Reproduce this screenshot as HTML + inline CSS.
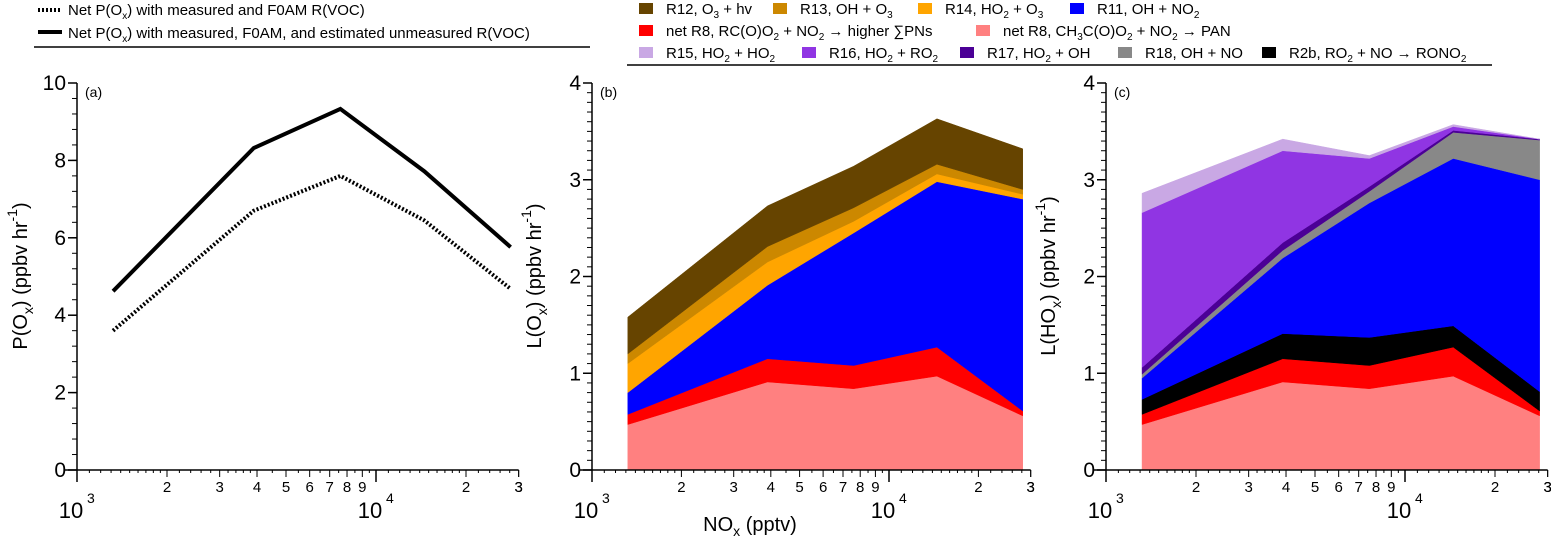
<!DOCTYPE html>
<html><head><meta charset="utf-8"><style>
html,body{margin:0;padding:0;background:#fff;}
svg{display:block;font-family:"Liberation Sans",Arial,sans-serif;}
</style></head><body>
<svg id="fig" width="1551" height="536" viewBox="0 0 1551 536"></svg>
<script>
// ---- data ----
const nox = [1320, 3900, 7600, 14500, 28200];
const pMeasured = [3.6, 6.7, 7.6, 6.45, 4.68];
const pTotal = [4.62, 8.32, 9.33, 7.72, 5.76];
// panel b series (individual contributions, stacked bottom->top)
const bPAN = [0.47, 0.91, 0.84, 0.97, 0.56];
const bR8h = [0.105, 0.24, 0.24, 0.30, 0.05];
const bR11 = [0.225, 0.76, 1.37, 1.71, 2.19];
const bR14 = [0.30, 0.24, 0.12, 0.08, 0.05];
const bR13 = [0.10, 0.16, 0.14, 0.10, 0.05];
const bR12 = [0.38, 0.42, 0.43, 0.47, 0.42];
// panel c series
const cPAN = [0.47, 0.91, 0.84, 0.97, 0.56];
const cR8h = [0.105, 0.24, 0.24, 0.30, 0.05];
const cR2b = [0.155, 0.26, 0.29, 0.22, 0.20];
const cR11 = [0.22, 0.78, 1.39, 1.73, 2.19];
const cR18 = [0.04, 0.08, 0.12, 0.27, 0.41];
const cR17 = [0.07, 0.08, 0.05, 0.02, 0.01];
const cR16 = [1.60, 0.95, 0.29, 0.04, 0.0];
const cR15 = [0.20, 0.12, 0.03, 0.02, 0.0];
const aYTicks = [0, 2, 4, 6, 8, 10];
const lYTicks = [0, 1, 2, 3, 4];
const xMinorLabels = ['2','3','4','5','6','7','8','9'];

const NS = 'http://www.w3.org/2000/svg';
const svg = document.getElementById('fig');
function el(tag, attrs, parent){
  const e = document.createElementNS(NS, tag);
  for (const k in attrs) e.setAttribute(k, attrs[k]);
  (parent||svg).appendChild(e);
  return e;
}
function makeAxes(x0, dec, top, bot, ymax){
  return {
    x: v => x0 + dec*(Math.log10(v) - 3),
    y: v => bot - (bot-top)*v/ymax, x0, dec, top, bot, ymax
  };
}
const A = makeAxes(77, 299, 83, 470, 10);
const B = makeAxes(592, 297, 83, 470, 4);
const C = makeAxes(1106, 299, 83, 470, 4);

function drawAxes(ax, name, yticks, minorStep){
  const g = el('g', {});
  
  
  const xEnd = ax.x(30000);
  el('line', {x1: ax.x0-12, y1: ax.bot, x2: xEnd, y2: ax.bot, stroke:'#000','stroke-width':1.5}, g);
  el('line', {x1: ax.x0, y1: ax.top, x2: ax.x0, y2: ax.bot, stroke:'#000','stroke-width':1.5}, g);
  // y ticks
  for (let v=0; v<=ax.ymax+1e-9; v+=minorStep){
    const y = ax.y(v);
    el('line',{x1:ax.x0-5,y1:y,x2:ax.x0,y2:y,stroke:'#000','stroke-width':1}, g);
  }
  yticks.forEach(v=>{
    const y = ax.y(v);
    el('line',{x1:ax.x0-9,y1:y,x2:ax.x0,y2:y,stroke:'#000','stroke-width':1.5}, g);
    const t = el('text',{x:ax.x0-11,y:y+7,'font-size':21,'text-anchor':'end'}, g);
    t.textContent = v;
    
    
  });
  // x ticks
  for (let d=3; d<=4; d++){
    const base = Math.pow(10,d);
    for (let m=1; m<10; m++){
      const v = base*m;
      if (v > 30000) break;
      const x = ax.x(v);
      if (m===1){
        el('line',{x1:x,y1:ax.bot,x2:x,y2:ax.bot+12,stroke:'#000','stroke-width':1.5}, g);
        const t = el('text',{x:x-6,y:518,'font-size':22,'text-anchor':'middle'}, g);
        t.textContent = '10';
        
        
        const s = el('text',{x:x+10,y:503,'font-size':14}, g);
        s.textContent = String(d);
      } else {
        el('line',{x1:x,y1:ax.bot,x2:x,y2:ax.bot+7,stroke:'#000','stroke-width':1}, g);
        const t = el('text',{x:x,y:492,'font-size':15,'text-anchor':'middle'}, g);
        t.textContent = xMinorLabels[m-2];
        
        
      }
      // sub-minor
      if (m < 9 || d===3){
        const step = m < 2 ? 0.1 : (m < 4 ? 0.2 : 0.5);
        for (let s=m+step; s<m+1-1e-9; s+=step){
          const vv = base*s; if (vv>30000) break;
          const xx = ax.x(vv);
          el('line',{x1:xx,y1:ax.bot,x2:xx,y2:ax.bot+3,stroke:'#000','stroke-width':1}, g);
        }
      }
    }
  }
  const v = 30000, x = ax.x(v);
  el('line',{x1:x,y1:ax.bot,x2:x,y2:ax.bot+7,stroke:'#000','stroke-width':1}, g);
  const t3 = el('text',{x:x,y:492,'font-size':15,'text-anchor':'middle'}, g);
  t3.textContent = '3';
}

function ytitle(cx, cy, main, name){
  const t = el('text',{x:0,y:0,'font-size':20,'text-anchor':'middle',transform:`translate(${cx},${cy}) rotate(-90)`});
  
  
  t.innerHTML = main;
}

function stack(ax, series, colors, names){
  let cum = nox.map(()=>0);
  series.forEach((s,i)=>{
    const lower = cum.slice();
    const upper = cum.map((c,j)=>c+s[j]);
    const pts = [];
    nox.forEach((n,j)=>pts.push(ax.x(n)+','+ax.y(upper[j])));
    for (let j=nox.length-1;j>=0;j--) pts.push(ax.x(nox[j])+','+ax.y(lower[j]));
    const p = el('polygon',{points:pts.join(' '),fill:colors[i],stroke:colors[i],'stroke-width':0.5});
    
    
    cum = upper;
  });
}

// Panel b
stack(B, [bPAN,bR8h,bR11,bR14,bR13,bR12],
  ['#ff8080','#ff0000','#0000ff','#ffa500','#cc8800','#664400'],
  ['area-b-pan','area-b-r8-higher-pns','area-b-r11','area-b-r14','area-b-r13','area-b-r12']);
// Panel c
stack(C, [cPAN,cR8h,cR2b,cR11,cR18,cR17,cR16,cR15],
  ['#ff8080','#ff0000','#000000','#0000ff','#888888','#4b0096','#9035e3','#c9a8e4'],
  ['area-c-pan','area-c-r8-higher-pns','area-c-r2b','area-c-r11','area-c-r18','area-c-r17','area-c-r16','area-c-r15']);

drawAxes(A,'panel-a',aYTicks,0.4);
drawAxes(B,'panel-b',lYTicks,0.1);
drawAxes(C,'panel-c',lYTicks,0.1);

// Panel a lines
function line(ax, vals, attrs, name){
  const pts = nox.map((n,j)=>ax.x(n)+','+ax.y(vals[j])).join(' ');
  const p = el('polyline', Object.assign({points:pts,fill:'none'}, attrs));
  
  
}
line(A, pMeasured, {stroke:'#000','stroke-width':4,'stroke-dasharray':'2,2'}, 'line-measured-f0am');
line(A, pTotal, {stroke:'#000','stroke-width':4,'stroke-linejoin':'miter'}, 'line-total-estimated');

// panel letters
[['(a)',A],['(b)',B],['(c)',C]].forEach(([s,ax])=>{
  const t = el('text',{x:ax.x0+8,y:97,'font-size':14});
  t.textContent = s;
  
  
});

ytitle(27, 276, 'P(O<tspan font-size="14" dy="6">x</tspan><tspan dy="-6">) (ppbv hr</tspan><tspan font-size="14" dy="-10">-1</tspan><tspan dy="10">)</tspan>', 'y-axis-title-a');
ytitle(541, 276, 'L(O<tspan font-size="14" dy="6">x</tspan><tspan dy="-6">) (ppbv hr</tspan><tspan font-size="14" dy="-10">-1</tspan><tspan dy="10">)</tspan>', 'y-axis-title-b');
ytitle(1055, 276, 'L(HO<tspan font-size="14" dy="6">x</tspan><tspan dy="-6">) (ppbv hr</tspan><tspan font-size="14" dy="-10">-1</tspan><tspan dy="10">)</tspan>', 'y-axis-title-c');

const xt = el('text',{x:750,y:531,'font-size':20,'text-anchor':'middle'});


xt.innerHTML = 'NO<tspan font-size="14" dy="5">x</tspan><tspan dy="-5"> (pptv)</tspan>';

// Left legend
const lg = el('g',{});


el('line',{x1:38,y1:10,x2:62,y2:10,stroke:'#000','stroke-width':4,'stroke-dasharray':'2,2'},lg);
el('line',{x1:38,y1:32,x2:62,y2:32,stroke:'#000','stroke-width':4},lg);
const l1 = el('text',{x:68,y:15,'font-size':15},lg);
l1.innerHTML = 'Net P(O<tspan font-size="10" dy="4">x</tspan><tspan dy="-4">) with measured and F0AM R(VOC)</tspan>';


const l2 = el('text',{x:68,y:38,'font-size':15},lg);
l2.innerHTML = 'Net P(O<tspan font-size="10" dy="4">x</tspan><tspan dy="-4">) with measured, F0AM, and estimated unmeasured R(VOC)</tspan>';


el('line',{x1:34,y1:47,x2:590,y2:47,stroke:'#000','stroke-width':1.5},lg);

// Right legend
const rg = el('g',{});


const entries = [
  [639,8,'#664400','R12, O<tspan font-size="10" dy="4">3</tspan><tspan dy="-4"> + hv</tspan>'],
  [773,8,'#cc8800','R13, OH + O<tspan font-size="10" dy="4">3</tspan>'],
  [918,8,'#ffa500','R14, HO<tspan font-size="10" dy="4">2</tspan><tspan dy="-4"> + O</tspan><tspan font-size="10" dy="4">3</tspan>'],
  [1070,8,'#0000ff','R11, OH + NO<tspan font-size="10" dy="4">2</tspan>'],
  [639,30,'#ff0000','net R8, RC(O)O<tspan font-size="10" dy="4">2</tspan><tspan dy="-4"> + NO</tspan><tspan font-size="10" dy="4">2</tspan><tspan dy="-4"> → higher ∑PNs</tspan>'],
  [976,30,'#ff8080','net R8, CH<tspan font-size="10" dy="4">3</tspan><tspan dy="-4">C(O)O</tspan><tspan font-size="10" dy="4">2</tspan><tspan dy="-4"> + NO</tspan><tspan font-size="10" dy="4">2</tspan><tspan dy="-4"> → PAN</tspan>'],
  [639,52,'#c9a8e4','R15, HO<tspan font-size="10" dy="4">2</tspan><tspan dy="-4"> + HO</tspan><tspan font-size="10" dy="4">2</tspan>'],
  [802,52,'#9035e3','R16, HO<tspan font-size="10" dy="4">2</tspan><tspan dy="-4"> + RO</tspan><tspan font-size="10" dy="4">2</tspan>'],
  [960,52,'#4b0096','R17, HO<tspan font-size="10" dy="4">2</tspan><tspan dy="-4"> + OH</tspan>'],
  [1118,52,'#888888','R18, OH + NO'],
  [1262,52,'#000000','R2b, RO<tspan font-size="10" dy="4">2</tspan><tspan dy="-4"> + NO → RONO</tspan><tspan font-size="10" dy="4">2</tspan>']
];
entries.forEach(([x,y,c,txt])=>{
  const g = el('g',{},rg);
  
  
  el('rect',{x:x,y:y-5,width:14,height:11,fill:c},g);
  const t = el('text',{x:x+27,y:y+6,'font-size':15},g);
  t.innerHTML = txt;
});
el('line',{x1:627,y1:65,x2:1492,y2:65,stroke:'#000','stroke-width':1.5},rg);
</script>
</body></html>
